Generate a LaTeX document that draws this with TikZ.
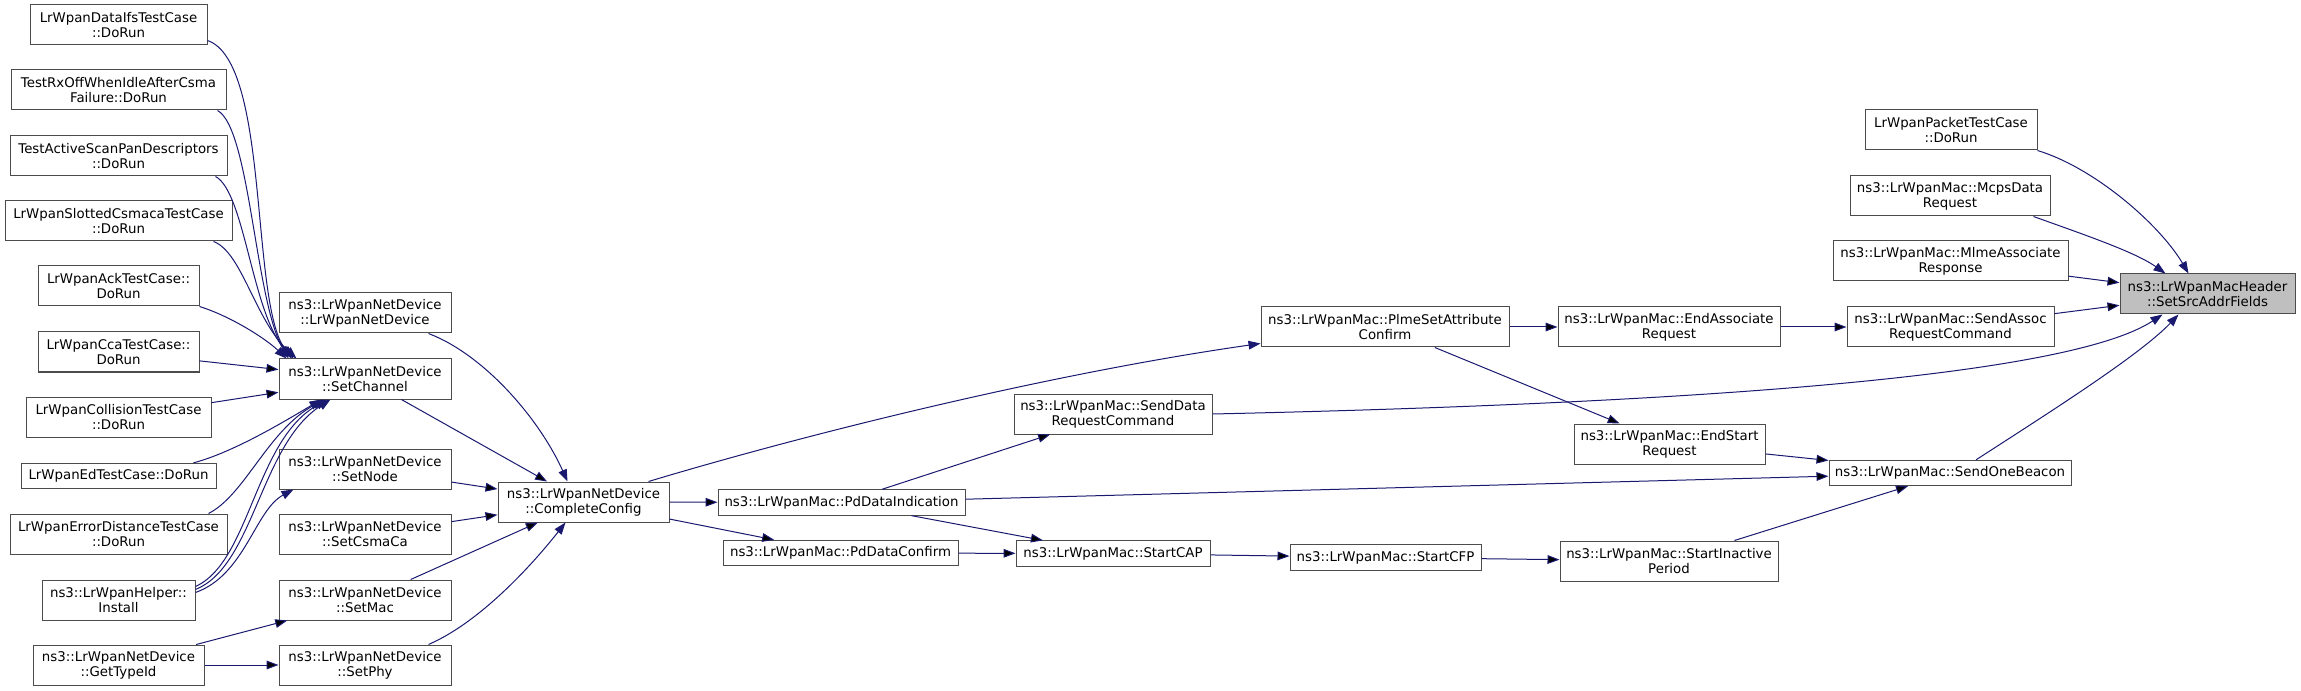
\documentclass[tikz,border=0pt]{standalone}
\usepackage{fontspec}
\setmainfont{DejaVu Sans}
\usepackage{tikz}
\usetikzlibrary{positioning,arrows.meta}
\definecolor{midnight}{HTML}{191970}
\tikzset{>={Triangle[width=6.5pt,length=9pt]}}

\begin{document}
\begin{tikzpicture}[
    x=0.75pt, y=-0.75pt,
    func/.style={
        draw=black!70,
        fill=white,
        line width=0.75pt,
        minimum height=30pt,
        inner sep=1pt,
        align=center,
        font=\fontsize{10}{11.25}\selectfont
        },
    func line/.style={func, minimum height=19pt},
    current/.style={func, fill=black!25},
    call/.style={->, draw=midnight, line width=0.75pt}
    ]
    \useasboundingbox (0,0) rectangle (2301,691);

    % test cases and helpers
    \node[func, minimum width=132.75pt] (dataifs) at (118.5,25) {LrWpanDataIfsTestCase\\::DoRun};
    \node[func, minimum width=161.25pt] (rxoff) at (118.5,90) {TestRxOffWhenIdleAfterCsma\\Failure::DoRun};
    \node[func, minimum width=162.75pt] (activescan) at (118.5,156) {TestActiveScanPanDescriptors\\::DoRun};
    \node[func, minimum width=170.25pt] (slotted) at (118.5,221) {LrWpanSlottedCsmacaTestCase\\::DoRun};
    \node[func, minimum width=120.75pt] (ack) at (118.5,286) {LrWpanAckTestCase::\\DoRun};
    \node[func, minimum width=120.75pt] (cca) at (118.5,352) {LrWpanCcaTestCase::\\DoRun};
    \node[func, minimum width=138.75pt] (collision) at (118.5,417) {LrWpanCollisionTestCase\\::DoRun};
    \node[func line, minimum width=146.25pt] (ed) at (118.5,476) {LrWpanEdTestCase::DoRun};
    \node[func, minimum width=162.75pt] (errordist) at (118.5,534) {LrWpanErrorDistanceTestCase\\::DoRun};
    \node[func, minimum width=114.75pt] (helper) at (118.5,600) {ns3::LrWpanHelper::\\Install};
    \node[func, minimum width=128.25pt] (gettypeid) at (118.5,665) {ns3::LrWpanNetDevice\\::GetTypeId};

    % net device
    \node[func, minimum width=129pt] (ctor) at (365,313) {ns3::LrWpanNetDevice\\::LrWpanNetDevice};
    \node[func, minimum width=129pt] (setchannel) at (365,379) {ns3::LrWpanNetDevice\\::SetChannel};
    \node[func, minimum width=129pt] (setnode) at (365,469) {ns3::LrWpanNetDevice\\::SetNode};
    \node[func, minimum width=129pt] (setcsmaca) at (365,534.5) {ns3::LrWpanNetDevice\\::SetCsmaCa};
    \node[func, minimum width=129pt] (setmac) at (365,600) {ns3::LrWpanNetDevice\\::SetMac};
    \node[func, minimum width=129pt] (setphy) at (365,665) {ns3::LrWpanNetDevice\\::SetPhy};
    \node[func, minimum width=128.25pt] (completeconfig) at (583.5,502) {ns3::LrWpanNetDevice\\::CompleteConfig};

    % mac
    \node[func line, minimum width=185.25pt] (pddataindication) at (841.5,502.5) {ns3::LrWpanMac::PdDataIndication};
    \node[func line, minimum width=176.25pt] (pddataconfirm) at (840.5,553) {ns3::LrWpanMac::PdDataConfirm};
    \node[func, minimum width=148.5pt] (senddatarc) at (1113,414) {ns3::LrWpanMac::SendData\\RequestCommand};
    \node[func line, minimum width=145.5pt] (startcap) at (1113,553.5) {ns3::LrWpanMac::StartCAP};
    \node[func, minimum width=186pt] (plme) at (1385,327) {ns3::LrWpanMac::PlmeSetAttribute\\Confirm};
    \node[func line, minimum width=143.25pt] (startcfp) at (1385.5,557.5) {ns3::LrWpanMac::StartCFP};
    \node[func, minimum width=166.5pt] (endassoc) at (1669,327) {ns3::LrWpanMac::EndAssociate\\Request};
    \node[func, minimum width=143.25pt] (endstart) at (1669.5,444) {ns3::LrWpanMac::EndStart\\Request};
    \node[func, minimum width=163.5pt] (startinactive) at (1669,561) {ns3::LrWpanMac::StartInactive\\Period};
    \node[func, minimum width=129pt] (packettc) at (1951,130) {LrWpanPacketTestCase\\::DoRun};
    \node[func, minimum width=150pt] (mcps) at (1950,196) {ns3::LrWpanMac::McpsData\\Request};
    \node[func, minimum width=176.25pt] (mlmeassoc) at (1950.5,261) {ns3::LrWpanMac::MlmeAssociate\\Response};
    \node[func, minimum width=155.25pt] (sendassoc) at (1950.5,327) {ns3::LrWpanMac::SendAssoc\\RequestCommand};
    \node[func line, minimum width=181.5pt] (sendonebeacon) at (1950,473) {ns3::LrWpanMac::SendOneBeacon};
    \node[current, minimum width=131.25pt] (setsrc) at (2207.5,294) {ns3::LrWpanMacHeader\\::SetSrcAddrFields};

    % calls into SetChannel
    \draw[call] ([yshift=3.75pt]dataifs.south east) .. controls (270,62) and (250,300) .. ([xshift=9.75pt]setchannel.north west);
    \draw[call] ([xshift=-6.75pt]rxoff.south east) .. controls (250,128) and (255,300) .. ([xshift=7.5pt]setchannel.north west);
    \draw[call] ([xshift=-9pt]activescan.south east) .. controls (245,192) and (252,315) .. ([xshift=11.25pt]setchannel.north west);
    \draw[call] ([xshift=-14.25pt]slotted.south east) .. controls (242,252) and (255,320) .. ([xshift=13.5pt]setchannel.north west);
    \draw[call] (ack.south east) .. controls (230,316) and (265,338) .. ([xshift=6pt]setchannel.north west);
    \draw[call] ([xshift=-17.25pt]ed.north east) .. controls (235,452) and (290,418) .. ([xshift=32.25pt]setchannel.south west);
    \draw[call] ([xshift=-14.25pt]errordist.north east) .. controls (245,495) and (268,430) .. ([xshift=34.5pt]setchannel.south west);
    \draw[call] ([yshift=-5.25pt]helper.north east) .. controls (250,562) and (255,440) .. ([xshift=36.75pt]setchannel.south west);
    \draw[call] ([yshift=-7.5pt]helper.north east) .. controls (254,566) and (260,445) .. ([xshift=39pt]setchannel.south west);
    \draw[call] ([yshift=-9.75pt]helper.north east) .. controls (245,575) and (255,510) .. ([xshift=11.25pt]setnode.south west);
    \path[call]
    (cca) edge (setchannel)
    (collision) edge (setchannel)
    (gettypeid) edge (setmac) edge (setphy)
    ;

    % calls into CompleteConfig
    \draw[call] ([xshift=-17.25pt]ctor.south east) .. controls (485,355) and (540,420) .. ([xshift=52.5pt]completeconfig.north west);
    \draw[call] ([xshift=-17.25pt]setphy.north east) .. controls (485,620) and (540,555) .. ([xshift=51pt]completeconfig.south west);
    \path[call]
    (setchannel) edge (completeconfig)
    (setnode) edge (completeconfig)
    (setcsmaca) edge (completeconfig)
    (setmac) edge (completeconfig)
    ;

    % mac chain
    \draw[call] ([xshift=-15.75pt]completeconfig.north east) .. controls (820,430) and (1060,372) .. ([yshift=3pt]plme.south west);
    \path[call]
    (completeconfig) edge (pddataindication) edge (pddataconfirm)
    (pddataindication) edge (senddatarc) edge (startcap) edge (sendonebeacon)
    (pddataconfirm) edge (startcap)
    (startcap) edge (startcfp)
    (startcfp) edge (startinactive)
    (plme) edge (endassoc) edge (endstart)
    (endassoc) edge (sendassoc)
    (endstart) edge (sendonebeacon)
    (startinactive) edge (sendonebeacon)
    (mlmeassoc) edge (setsrc)
    (sendassoc) edge (setsrc)
    ;

    % calls into SetSrcAddrFields
    \draw[call] (senddatarc.east) .. controls (1750,402) and (2075,372) .. ([xshift=32.25pt]setsrc.south west);
    \draw[call] (packettc.south east) .. controls (2095,168) and (2160,225) .. ([xshift=51.75pt]setsrc.north west);
    \draw[call] ([xshift=-12.75pt]mcps.south east) .. controls (2085,235) and (2135,252) .. ([xshift=34.5pt]setsrc.north west);
    \draw[call] ([xshift=19.5pt]sendonebeacon.north) .. controls (2050,412) and (2140,355) .. ([xshift=44.25pt]setsrc.south west);
\end{tikzpicture}
\end{document}
